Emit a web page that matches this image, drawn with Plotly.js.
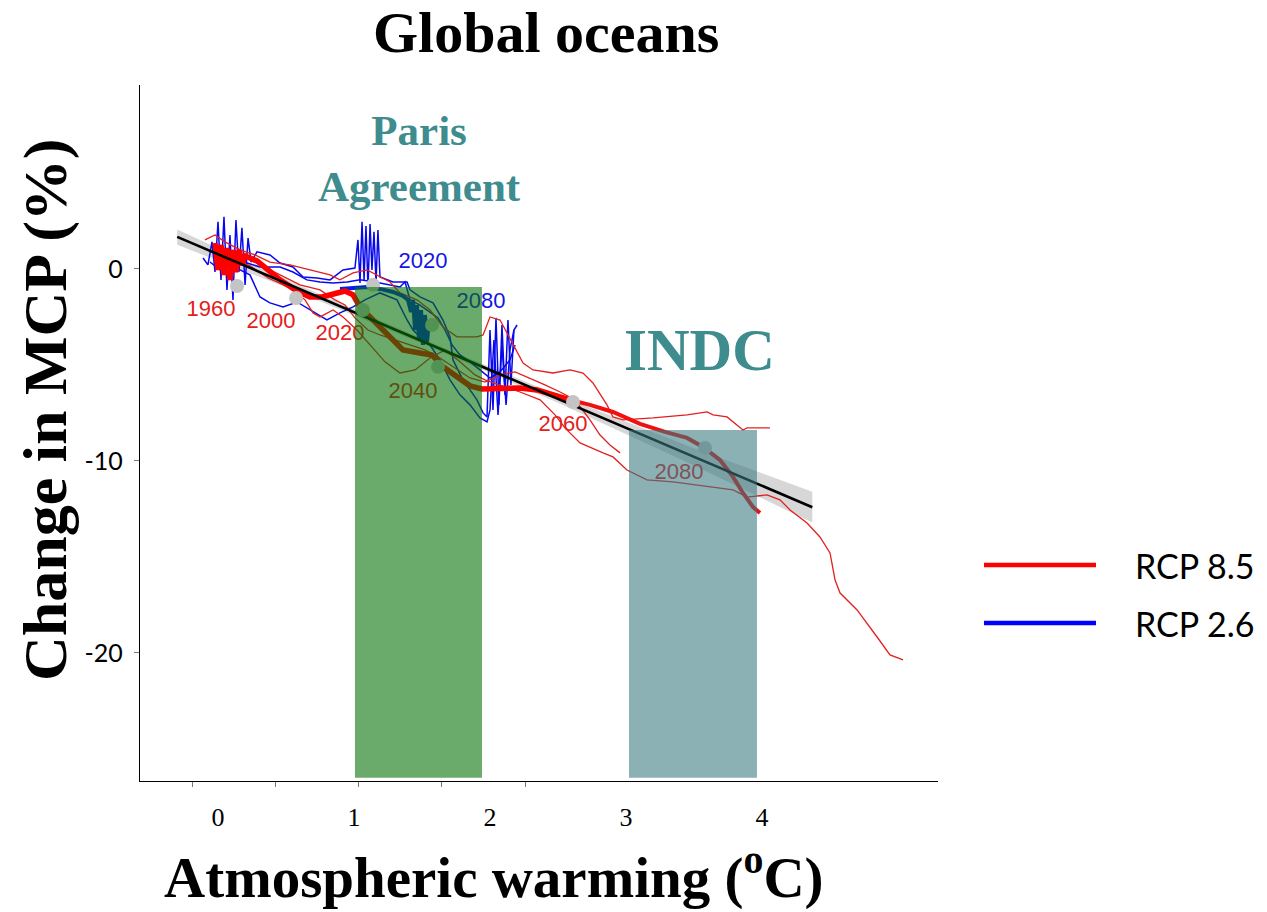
<!DOCTYPE html>
<html>
<head>
<meta charset="utf-8">
<script src="https://cdn.plot.ly/plotly-3.0.1.min.js"></script>
<style>html,body{margin:0;padding:0;background:#fff;}#chart{width:1267px;height:912px;}</style>
</head>
<body>
<div id="chart"></div>
<script>
// ---------- data (atmospheric warming °C, change in MCP %) ----------
// RCP 8.5 ensemble mean (thick), early part and late part
const rcp85MeanAX = [-0.022,0,0.022,0.044,0.066,0.088,0.110,0.132,0.154,0.176,0.199,0.287,0.368,0.456,0.581,0.676,0.765,0.860,0.934,0.993,1.044,1.140,1.265,1.360,1.485,1.574,1.654,1.757,1.853,1.941,2.074,2.221,2.346,2.441,2.537,2.588];
const rcp85MeanAY = [1.35,-0.05,1.25,-0.31,1.09,-0.57,0.99,-0.16,0.99,0.21,0.68,0.42,-0.05,-0.57,-1.15,-1.46,-1.46,-1.30,-1.15,-1.35,-1.98,-2.66,-3.54,-4.22,-4.38,-4.48,-5.10,-5.63,-6.09,-6.25,-6.20,-6.20,-6.30,-6.51,-6.72,-6.82];
const rcp85MeanBX = [2.588,2.735,2.904,3.103,3.287,3.449,3.566,3.691,3.787,3.860,3.934,3.985];
const rcp85MeanBY = [-6.82,-7.08,-7.45,-8.07,-8.49,-8.80,-9.27,-9.95,-10.83,-11.67,-12.40,-12.71];

// RCP 8.5 individual members (thin)
const rcp85M1X = [-0.096,-0.022,0.051,0.162,0.272,0.382,0.529,0.676,0.824,0.897,0.993,1.096,1.191,1.265,1.338,1.463,1.559,1.654,1.757,1.904,1.949,2.000,2.074,2.125,2.169,2.243,2.316,2.463,2.588,2.684,2.757,2.860,2.904,2.978,3.199,3.301,3.449,3.596,3.640,3.743,3.860,3.890,4.059];
const rcp85M1Y = [1.51,1.77,1.41,0.99,0.73,0.36,0.21,-0.05,-0.31,-0.57,-0.21,-0.05,-0.42,-0.68,-1.25,-1.61,-2.14,-3.02,-3.54,-3.54,-3.44,-2.50,-2.66,-3.33,-3.85,-4.90,-5.26,-5.42,-5.26,-5.42,-5.94,-7.08,-7.71,-7.86,-7.76,-7.71,-7.60,-7.45,-7.60,-7.71,-8.39,-8.28,-8.28];
const rcp85M2X = [-0.022,0.088,0.235,0.368,0.529,0.640,0.699,0.750,0.846,0.919,1.022,1.118,1.228,1.338,1.449,1.559,1.669,1.779,1.890,1.963,2.074,2.221,2.368,2.478,2.551,2.662,2.831,2.904,3.007,3.154,3.346,3.596,3.787,3.890,4.037,4.132,4.206,4.331,4.426,4.500,4.537,4.574,4.699,4.846,4.941,5.037];
const rcp85M2Y = [0.99,0.57,0.16,-0.47,-0.99,-1.61,-2.29,-2.50,-2.14,-2.50,-3.18,-3.96,-4.84,-5.42,-5.26,-4.64,-4.22,-4.84,-5.52,-5.78,-6.04,-6.41,-6.82,-7.60,-8.28,-9.06,-9.58,-9.79,-10.47,-10.99,-11.09,-11.35,-11.51,-11.88,-11.77,-12.03,-12.55,-13.23,-13.96,-14.79,-16.20,-16.88,-17.76,-19.17,-20.10,-20.36];
const rcp85M3X = [0.015,0.162,0.309,0.456,0.603,0.750,0.860,0.934,1.007,1.103,1.191,1.301,1.412,1.522,1.632,1.743,1.853,1.963,2.074,2.184,2.294,2.404,2.515,2.625,2.735,2.809,2.882,2.956];
const rcp85M3Y = [1.09,0.73,0.21,-0.31,-0.83,-1.09,-1.61,-1.88,-2.55,-3.18,-3.44,-3.70,-3.96,-4.22,-4.64,-5.16,-5.68,-5.89,-5.52,-5.36,-5.68,-6.04,-6.41,-6.82,-7.86,-8.65,-9.17,-9.58];

// RCP 2.6 ensemble mean (thick)
const rcp26MeanX = [0.897,0.993,1.096,1.191,1.287,1.360,1.397,1.419,1.434,1.449,1.463,1.478,1.493,1.507,1.522,1.537,1.551,1.574];
const rcp26MeanY = [-1.04,-0.99,-0.94,-1.04,-1.20,-1.41,-1.61,-2.24,-1.61,-3.18,-1.88,-3.70,-2.14,-3.96,-2.40,-3.80,-2.76,-2.92];

// RCP 2.6 individual members (thin)
const rcp26M1X = [-0.110,-0.074,-0.044,-0.022,0,0.022,0.044,0.066,0.088,0.110,0.132,0.154,0.176,0.199,0.221,0.243,0.287,0.382,0.456,0.551,0.625,0.728,0.824,0.919,1.007,1.029,1.044,1.059,1.074,1.088,1.103,1.118,1.132,1.147,1.162,1.176,1.191,1.287,1.390,1.412,1.485,1.581,1.654,1.706,1.728,1.765,1.801,1.853,1.904,1.949,1.978,2.000,2.022,2.044,2.066,2.088,2.110,2.132,2.154,2.176,2.199];
const rcp26M1Y = [0.57,0.21,1.41,-0.16,2.45,-0.57,2.71,-1.09,1.77,-1.61,2.55,-0.16,2.14,-0.83,1.61,0.36,0.89,0.73,0.31,0.10,-0.42,-0.47,-0.57,-0.05,0.05,1.51,-0.73,2.45,-0.57,2.24,-0.99,2.34,-0.05,1.93,-0.73,2.03,-0.42,-0.68,-0.68,-1.09,-1.46,-1.77,-2.66,-3.54,-4.74,-5.26,-5.78,-6.30,-6.82,-7.50,-7.71,-3.18,-7.34,-2.55,-7.08,-2.92,-6.56,-2.66,-6.04,-3.18,-2.92];
const rcp26M2X = [-0.059,0.015,0.088,0.162,0.235,0.309,0.382,0.478,0.581,0.699,0.801,0.897,0.993,1.081,1.191,1.316,1.390,1.434,1.485,1.559,1.632,1.706,1.779,1.853,1.926,1.978,2.000,2.029,2.059,2.088,2.118,2.147,2.176];
const rcp26M2Y = [0.36,-0.05,0.36,-0.05,-0.31,-1.46,-1.77,-1.98,-1.72,-2.24,-2.66,-2.29,-1.98,-1.61,-1.25,-1.61,-2.66,-3.18,-3.54,-3.96,-4.74,-5.78,-6.56,-7.08,-7.76,-7.97,-7.34,-3.70,-7.60,-3.96,-7.08,-4.22,-3.18];
const rcp26M3X = [-0.022,0.051,0.125,0.213,0.309,0.456,0.551,0.654,0.750,0.846,0.949,1.044,1.154,1.265,1.338,1.375,1.412,1.485,1.559,1.618,1.669,1.721,1.779,1.853,1.926,2.000,2.074,2.147,2.184];
const rcp26M3Y = [0.73,0.57,0.73,0.31,0.10,0.10,-0.16,-0.57,-0.68,-0.73,-0.68,-0.57,-0.68,-0.83,-0.94,-0.68,-1.61,-1.88,-2.24,-2.55,-3.18,-3.96,-4.48,-4.84,-5.26,-5.68,-5.36,-4.74,-3.96];

// decade markers (grey dots)
const decadeX = [0.140,0.574,1.140,1.066,1.574,1.618,2.610,3.581];
const decadeY = [-0.89,-1.51,-0.83,-2.14,-2.92,-5.10,-6.93,-9.32];

// year labels
const yearText   = ['1960','2000','2020','2040','2060','2080','2020','2080'];
const yearX      = [-0.051,0.390,0.897,1.434,2.537,3.390,1.507,1.934];
const yearY      = [-2.19,-2.81,-3.44,-6.41,-8.13,-10.68,0.31,-1.77];
const yearColor  = ['#e3201c','#e3201c','#e3201c','#e3201c','#e3201c','#e3201c','#1414e6','#1414e6'];

// linear fit and its confidence band
const fitX = [-0.30, 4.37];
const fitY = [1.67, -12.41];
const bandX = [-0.30, 0.5, 1.5, 2.5, 3.5, 4.37];
const bandUpper = [2.06, -0.55, -3.64, -6.57, -9.34, -11.61];
const bandLower = [1.26, -0.95, -3.88, -6.97, -10.24, -13.21];

// warming zones: Paris Agreement and INDC
const zoneX0 = [1.007, 3.022];
const zoneX1 = [1.941, 3.963];
const zoneTop = [-0.94, -8.39];
const zoneBottom = [-26.5, -26.5];
const zoneLabel = ['Paris<br>Agreement', 'INDC'];
const zoneLabelX = [1.478, 3.537];
const zoneLabelY = [5.73, -4.22];
const zoneLabelSize = [43, 59];

// axis ticks
const xTickVals = [0, 1, 2, 3, 4];
const xTickText = ['0', '1', '2', '3', '4'];
const yTickVals = [-20, -10, 0];
const yTickText = ['-20', '-10', '0'];

// titles
const chartTitle = 'Global oceans';
const xTitle = 'Atmospheric warming (<sup>o</sup>C)';
const yTitle = 'Change in MCP (%)';

// legend
const legendNames = ['RCP 8.5', 'RCP 2.6'];
const legendColors = ['#ff0000', '#0000ff'];

// ---------- traces ----------
const RED_THIN = 'rgb(226,32,32)';
const BLUE_THIN = 'rgb(8,8,240)';
function line(x, y, color, width, name) {
  return {type:'scatter', mode:'lines', x:x, y:y, name:name, showlegend:false,
          hoverinfo:'skip', line:{color:color, width:width, shape:'linear'}};
}
const traces = [];
traces.push({type:'scatter', mode:'lines', x: bandX.concat(bandX.slice().reverse()),
  y: bandUpper.concat(bandLower.slice().reverse()), fill:'toself',
  fillcolor:'rgba(175,175,175,0.5)', line:{width:0}, hoverinfo:'skip', showlegend:false});
traces.push(line(rcp26M1X, rcp26M1Y, BLUE_THIN, 1.5, 'RCP 2.6'));
traces.push(line(rcp26M2X, rcp26M2Y, BLUE_THIN, 1.5, 'RCP 2.6'));
traces.push(line(rcp26M3X, rcp26M3Y, BLUE_THIN, 1.5, 'RCP 2.6'));
traces.push(line(rcp85M1X, rcp85M1Y, RED_THIN, 1.3, 'RCP 8.5'));
traces.push(line(rcp85M2X, rcp85M2Y, RED_THIN, 1.3, 'RCP 8.5'));
traces.push(line(rcp85M3X, rcp85M3Y, RED_THIN, 1.3, 'RCP 8.5'));
traces.push(line(rcp26MeanX, rcp26MeanY, 'rgb(0,30,235)', 4, 'RCP 2.6'));
traces.push(line(rcp85MeanAX, rcp85MeanAY, '#ff0000', 5.5, 'RCP 8.5'));
traces.push(line(rcp85MeanBX, rcp85MeanBY, '#f01010', 4, 'RCP 8.5'));
traces.push(line(fitX, fitY, '#000000', 2.6, 'fit'));
traces.push({type:'scatter', mode:'markers', x:decadeX, y:decadeY, hoverinfo:'skip', showlegend:false,
  marker:{size:14, color:'#c4c4c4', line:{width:0}}});
traces.push({type:'scatter', mode:'text', x:yearX, y:yearY, text:yearText, hoverinfo:'skip', showlegend:false,
  textposition:'middle center', textfont:{family:'Liberation Sans, Arial, sans-serif', size:22, color:yearColor}});
// carrier for the secondary tick axis
traces.push({type:'scatter', mode:'lines', x:[], y:[], xaxis:'x2', yaxis:'y', hoverinfo:'skip', showlegend:false});

// ---------- shapes & annotations ----------
const zoneFill = ['rgba(7,113,7,0.6)', 'rgba(55,120,127,0.58)'];
const shapes = zoneX0.map((x0, i) => ({type:'rect', xref:'x', yref:'y', layer:'above',
  x0:x0, x1:zoneX1[i], y0:zoneBottom[i], y1:zoneTop[i], fillcolor:zoneFill[i], line:{width:0}}));
const legY = [0.3103, 0.227];
legendNames.forEach((n, i) => {
  shapes.push({type:'line', xref:'paper', yref:'paper', x0:1.0576, x1:1.198, y0:legY[i], y1:legY[i],
    line:{color:legendColors[i], width:4.5}});
});
const serifBold = {family:'Liberation Serif, Times New Roman, serif', size:58, color:'#000', weight:'bold'};
const annotations = zoneLabel.map((t, i) => ({text:'<b>'+t+'</b>', x:zoneLabelX[i], y:zoneLabelY[i], xref:'x', yref:'y',
  showarrow:false, xanchor:'center', yanchor:'middle',
  font:{family:'Liberation Serif, Times New Roman, serif', size:zoneLabelSize[i], color:'#3e8c8e'}}));
legendNames.forEach((n, i) => {
  annotations.push({text:n, x:1.2444, y:legY[i], xref:'paper', yref:'paper', showarrow:false,
    xanchor:'left', yanchor:'middle', font:{family:'Lato, Open Sans, sans-serif', size:34, color:'#000'}});
});
// axis titles (placed as in the reference, off-centre)
annotations.push({text:xTitle, x:0.4436, y:-0.1329, xref:'paper', yref:'paper', showarrow:false,
  xanchor:'center', yanchor:'middle', font:Object.assign({}, serifBold, {size:57})});
annotations.push({text:yTitle, x:-0.119, y:0.533, xref:'paper', yref:'paper', showarrow:false, textangle:-90,
  xanchor:'center', yanchor:'middle', font:Object.assign({}, serifBold, {size:62})});

const layout = {
  width:1267, height:912,
  margin:{l:140, r:329, t:85, b:131},
  paper_bgcolor:'#fff', plot_bgcolor:'#fff',
  showlegend:false,
  title:{text:chartTitle, font:serifBold, xref:'paper', x:0.509, xanchor:'center',
         yref:'container', y:0.965, yanchor:'middle'},
  xaxis:{range:[-0.5735, 5.294], showgrid:false, zeroline:false, showline:true, linecolor:'#000', linewidth:1.3,
         ticks:'', tickvals:xTickVals, ticktext:xTickText, ticklabelstandoff:12,
         tickfont:{family:'Liberation Serif, Times New Roman, serif', size:26, color:'#000'}},
  xaxis2:{overlaying:'x', anchor:'y', side:'bottom', range:[-0.6246, 8.961], showgrid:false, zeroline:false,
          showline:false, ticks:'outside', ticklen:5, tickwidth:1, tickcolor:'#777', tickvals:xTickVals,
          showticklabels:false},
  yaxis:{range:[-26.67, 9.58], showgrid:false, zeroline:false, showline:true, linecolor:'#000', linewidth:1.3,
         ticks:'outside', ticklen:5, tickcolor:'#777', tickvals:yTickVals, ticktext:yTickText, ticklabelstandoff:6,
         tickfont:{family:'Lato, Open Sans, sans-serif', size:25, color:'#000'}},
  shapes:shapes,
  annotations:annotations
};

Plotly.newPlot('chart', traces, layout, {displayModeBar:false, staticPlot:true});
</script>
</body>
</html>
